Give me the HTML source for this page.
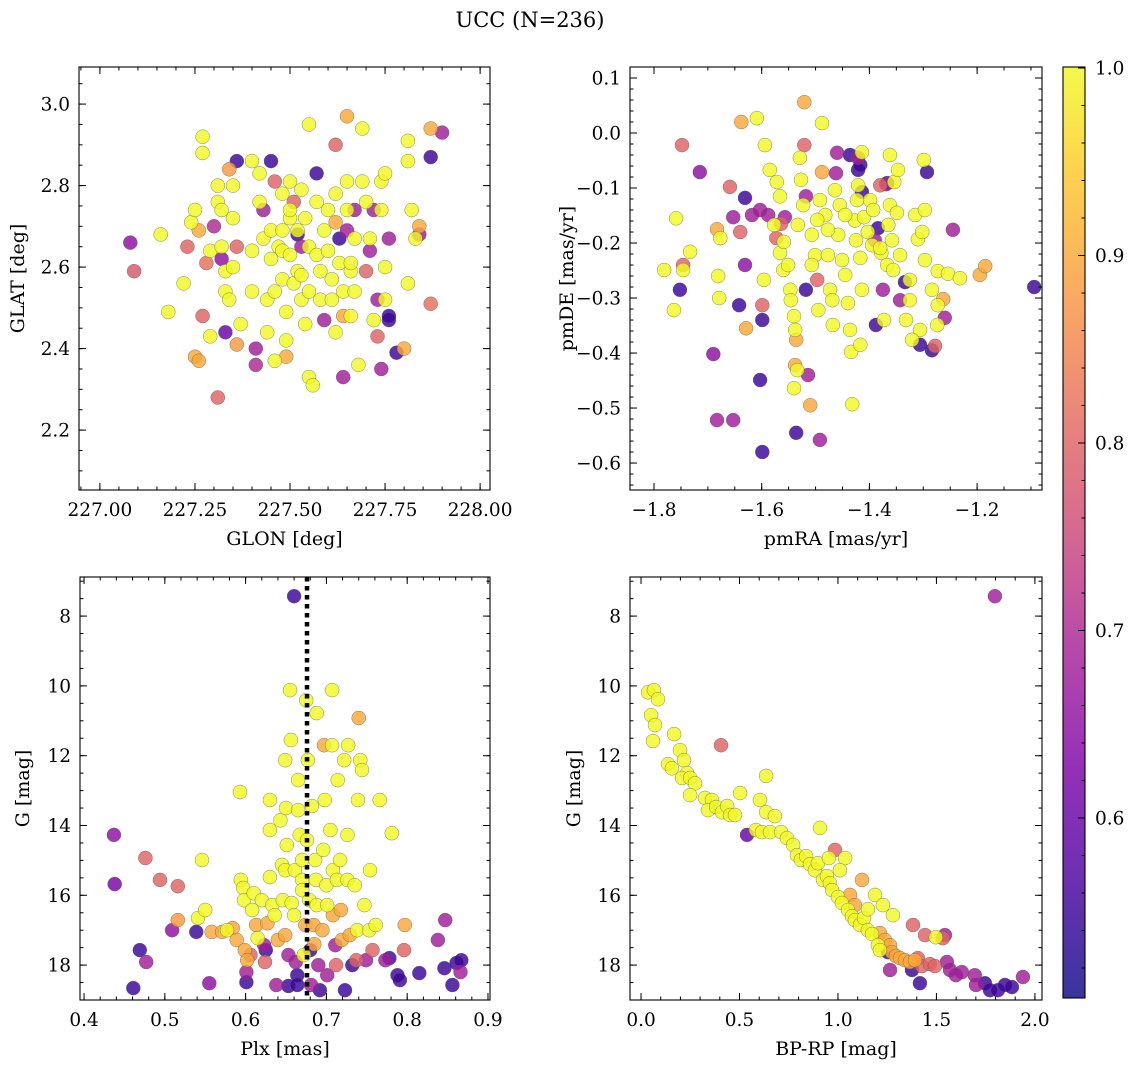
<!DOCTYPE html>
<html><head><meta charset="utf-8"><style>
html,body{margin:0;padding:0;background:#fff;}
svg{display:block;font-family:"DejaVu Serif","Liberation Serif",serif;}
</style></head><body>
<svg id="fig" width="1136" height="1067" viewBox="0 0 1136 1067" xmlns="http://www.w3.org/2000/svg">
<defs>
<linearGradient id="cbgrad" x1="0" y1="1" x2="0" y2="0">
<stop offset="0" stop-color="#0d0887"/><stop offset="0.13" stop-color="#4c02a1"/><stop offset="0.25" stop-color="#7e03a8"/><stop offset="0.38" stop-color="#a82296"/><stop offset="0.5" stop-color="#cc4778"/><stop offset="0.63" stop-color="#e66c5c"/><stop offset="0.75" stop-color="#f89540"/><stop offset="0.88" stop-color="#fdc527"/><stop offset="1" stop-color="#f0f921"/>
</linearGradient>
</defs>
<text x="530" y="27" text-anchor="middle" font-size="21">UCC (N=236)</text>
</svg>
<script>
const posPoints = [[227.08,2.66,.65],[227.09,2.59,.78],[227.16,2.68,1],[227.18,2.49,1],[227.22,2.56,1],[227.23,2.65,.8],[227.24,2.71,1],[227.25,2.74,1],[227.25,2.38,.9],[227.26,2.37,.9],[227.27,2.88,1],[227.27,2.92,1],[227.26,2.69,.9],[227.27,2.48,.8],[227.28,2.61,.82],[227.29,2.43,1],[227.29,2.64,1],[227.30,2.70,.7],[227.31,2.28,.8],[227.31,2.76,1],[227.31,2.80,1],[227.32,2.74,1],[227.32,2.65,1],[227.32,2.62,.65],[227.33,2.59,1],[227.33,2.54,1],[227.33,2.44,.6],[227.34,2.84,.88],[227.34,2.52,1],[227.35,2.80,1],[227.35,2.72,1],[227.35,2.60,1],[227.36,2.86,.55],[227.36,2.41,.88],[227.36,2.65,.8],[227.37,2.46,1],[227.40,2.86,1],[227.40,2.64,1],[227.40,2.54,1],[227.41,2.36,.7],[227.41,2.40,.68],[227.42,2.83,1],[227.42,2.76,1],[227.43,2.74,.68],[227.43,2.67,1],[227.44,2.52,1],[227.44,2.44,1],[227.45,2.86,.55],[227.45,2.69,1],[227.45,2.62,1],[227.46,2.54,1],[227.46,2.37,1],[227.46,2.81,.8],[227.47,2.65,1],[227.48,2.78,1],[227.48,2.69,1],[227.48,2.64,1],[227.48,2.57,1],[227.49,2.49,1],[227.49,2.42,1],[227.49,2.38,.9],[227.50,2.81,1],[227.50,2.72,1],[227.50,2.74,1],[227.50,2.63,1],[227.51,2.56,1],[227.51,2.76,.8],[227.52,2.69,1],[227.52,2.59,1],[227.52,2.68,.55],[227.53,2.65,.68],[227.53,2.58,1],[227.53,2.52,1],[227.53,2.79,1],[227.54,2.46,1],[227.54,2.72,1],[227.55,2.65,1],[227.55,2.95,1],[227.55,2.54,1],[227.55,2.33,1],[227.56,2.31,1],[227.57,2.83,.55],[227.57,2.76,1],[227.57,2.63,1],[227.58,2.59,1],[227.58,2.52,1],[227.59,2.69,1],[227.59,2.47,.68],[227.60,2.74,1],[227.60,2.64,1],[227.61,2.57,1],[227.61,2.52,1],[227.62,2.44,1],[227.62,2.90,.8],[227.62,2.78,1],[227.62,2.71,.9],[227.63,2.61,1],[227.63,2.67,.55],[227.64,2.48,.9],[227.64,2.54,1],[227.64,2.33,.68],[227.65,2.81,1],[227.65,2.97,.9],[227.65,2.74,1],[227.65,2.69,.68],[227.66,2.59,1],[227.66,2.48,1],[227.66,2.61,1],[227.67,2.74,.68],[227.67,2.67,1],[227.67,2.54,1],[227.68,2.36,1],[227.69,2.81,1],[227.69,2.94,1],[227.70,2.76,1],[227.70,2.59,.8],[227.71,2.67,1],[227.71,2.64,.68],[227.72,2.74,.68],[227.72,2.47,1],[227.73,2.52,.68],[227.73,2.43,.8],[227.74,2.81,1],[227.74,2.35,.68],[227.74,2.74,1],[227.75,2.52,1],[227.75,2.60,1],[227.75,2.83,1],[227.76,2.47,.55],[227.76,2.67,.68],[227.76,2.48,.55],[227.78,2.39,.55],[227.80,2.40,.9],[227.81,2.56,1],[227.81,2.86,1],[227.81,2.91,1],[227.82,2.74,1],[227.83,2.67,1],[227.84,2.70,.9],[227.84,2.68,.68],[227.87,2.94,.9],[227.87,2.51,.82],[227.87,2.87,.55],[227.90,2.93,.68]];
const pmPoints = [[-1.748,-0.022,.8],[-1.715,-0.071,.65],[-1.759,-0.155,1],[-1.781,-0.249,1],[-1.763,-0.322,1],[-1.746,-0.24,.8],[-1.746,-0.249,1],[-1.752,-0.285,.55],[-1.733,-0.216,1],[-1.690,-0.402,.65],[-1.683,-0.175,.9],[-1.677,-0.191,1],[-1.681,-0.26,1],[-1.679,-0.30,1],[-1.683,-0.522,.68],[-1.659,-0.098,.8],[-1.653,-0.522,.68],[-1.653,-0.153,.68],[-1.642,-0.313,.55],[-1.640,-0.18,.8],[-1.638,0.02,.9],[-1.631,-0.118,.55],[-1.631,-0.24,.65],[-1.629,-0.355,.9],[-1.618,-0.149,.68],[-1.609,0.027,1],[-1.603,-0.14,.68],[-1.599,-0.313,.8],[-1.599,-0.34,.55],[-1.603,-0.449,.55],[-1.599,-0.58,.55],[-1.596,-0.267,1],[-1.594,-0.022,1],[-1.588,-0.149,.68],[-1.585,-0.067,1],[-1.577,-0.167,1],[-1.573,-0.191,.8],[-1.572,-0.089,1],[-1.566,-0.115,1],[-1.566,-0.218,1],[-1.564,-0.165,.8],[-1.560,-0.249,1],[-1.559,-0.198,1],[-1.557,-0.153,.68],[-1.551,-0.24,1],[-1.547,-0.285,1],[-1.546,-0.304,1],[-1.540,-0.333,1],[-1.538,-0.358,1],[-1.536,-0.376,.9],[-1.540,-0.464,1],[-1.536,-0.545,.55],[-1.538,-0.422,.9],[-1.534,-0.431,1],[-1.533,-0.167,1],[-1.529,-0.045,1],[-1.527,-0.085,1],[-1.523,-0.131,1],[-1.521,0.056,.9],[-1.521,-0.022,.8],[-1.518,-0.115,.68],[-1.518,-0.285,.55],[-1.514,-0.44,.68],[-1.510,-0.495,.9],[-1.507,-0.185,1],[-1.501,-0.222,1],[-1.497,-0.267,.8],[-1.495,-0.322,1],[-1.492,-0.558,.68],[-1.488,0.018,1],[-1.488,-0.071,.9],[-1.482,-0.149,1],[-1.477,-0.222,1],[-1.473,-0.285,1],[-1.469,-0.304,1],[-1.468,-0.349,1],[-1.464,-0.104,1],[-1.462,-0.073,.68],[-1.460,-0.036,.68],[-1.458,-0.185,1],[-1.455,-0.131,1],[-1.451,-0.231,1],[-1.445,-0.258,1],[-1.440,-0.309,1],[-1.436,-0.358,1],[-1.434,-0.398,1],[-1.432,-0.493,1],[-1.427,-0.159,1],[-1.425,-0.195,1],[-1.421,-0.095,1],[-1.421,-0.067,.55],[-1.417,-0.227,1],[-1.414,-0.285,1],[-1.410,-0.153,1],[-1.403,-0.18,1],[-1.399,-0.122,1],[-1.395,-0.204,1],[-1.393,-0.140,1],[-1.390,-0.195,.68],[-1.388,-0.349,.55],[-1.384,-0.173,.55],[-1.380,-0.095,.8],[-1.378,-0.218,1],[-1.375,-0.285,.68],[-1.373,-0.340,1],[-1.367,-0.240,1],[-1.365,-0.167,1],[-1.362,-0.131,1],[-1.358,-0.195,1],[-1.354,-0.089,1],[-1.349,-0.145,1],[-1.347,-0.067,1],[-1.362,-0.04,1],[-1.423,-0.122,1],[-1.414,-0.107,.55],[-1.369,-0.093,.68],[-1.417,-0.058,.55],[-1.380,-0.209,1],[-1.343,-0.222,1],[-1.334,-0.271,.55],[-1.325,-0.267,1],[-1.315,-0.149,1],[-1.310,-0.193,1],[-1.306,-0.358,1],[-1.297,-0.140,1],[-1.284,-0.285,1],[-1.274,-0.349,1],[-1.356,-0.249,1],[-1.343,-0.304,.68],[-1.332,-0.340,1],[-1.321,-0.376,1],[-1.306,-0.385,.55],[-1.325,-0.304,1],[-1.297,-0.231,1],[-1.417,-0.385,1],[-1.445,-0.149,1],[-1.477,-0.176,1],[-1.507,-0.24,1],[-1.497,-0.158,1],[-1.492,-0.122,1],[-1.436,-0.04,.55],[-1.414,-0.035,1],[-1.421,-0.045,.68],[-1.367,-0.091,.55],[-1.302,-0.180,1],[-1.278,-0.387,.8],[-1.273,-0.313,1],[-1.299,-0.049,1],[-1.293,-0.071,.55],[-1.273,-0.251,1],[-1.263,-0.302,.9],[-1.260,-0.336,.68],[-1.245,-0.176,.68],[-1.254,-0.256,1],[-1.232,-0.264,1],[-1.195,-0.258,.9],[-1.185,-0.242,.9],[-1.094,-0.280,.55],[-1.284,-0.395,.55]];
const plxPoints = [[0.437,14.27,.65],[0.438,15.68,.62],[0.476,14.93,.8],[0.469,17.57,.55],[0.477,17.91,.68],[0.461,18.66,.55],[0.494,15.56,.8],[0.516,15.74,.8],[0.516,16.71,.88],[0.509,17.0,.65],[0.539,17.05,.55],[0.541,16.65,1],[0.550,16.42,1],[0.546,14.99,1],[0.555,18.52,.65],[0.558,17.05,.9],[0.571,17.05,.9],[0.577,17.0,1],[0.584,16.94,.9],[0.589,17.28,.9],[0.593,13.04,1],[0.594,15.56,1],[0.597,15.79,1],[0.598,16.14,1],[0.599,17.57,.9],[0.602,17.86,.9],[0.601,18.2,.68],[0.601,18.49,.55],[0.606,17.71,.8],[0.608,16.42,1],[0.610,15.94,1],[0.613,16.85,.9],[0.615,17.23,1],[0.620,16.14,1],[0.623,17.43,.68],[0.625,17.57,.55],[0.624,17.91,.8],[0.627,16.8,.9],[0.630,15.48,1],[0.630,14.13,1],[0.630,13.27,1],[0.633,16.28,1],[0.636,16.57,1],[0.638,18.57,.68],[0.640,17.28,.9],[0.643,13.85,1],[0.645,15.13,1],[0.646,16.14,1],[0.649,12.13,1],[0.650,13.5,1],[0.651,14.56,1],[0.649,15.28,1],[0.649,17.14,.9],[0.653,17.71,.68],[0.653,18.6,.55],[0.655,10.12,1],[0.656,11.55,1],[0.657,16.22,1],[0.660,7.43,.55],[0.660,16.57,1],[0.661,15.28,1],[0.662,17.91,.68],[0.664,18.29,.55],[0.664,18.57,.55],[0.665,12.7,1],[0.665,13.56,1],[0.667,14.27,1],[0.670,15.56,1],[0.670,14.99,1],[0.670,15.85,1],[0.672,17.71,1],[0.674,16.85,.9],[0.675,10.41,1],[0.676,14.42,1],[0.677,12.13,1],[0.679,16.14,1],[0.680,17.57,.55],[0.681,18.57,.68],[0.682,13.44,1],[0.684,16.85,.9],[0.685,17.4,.9],[0.686,14.99,1],[0.687,15.56,1],[0.688,10.78,1],[0.688,16.28,1],[0.690,18.0,.68],[0.692,18.72,.55],[0.695,17.0,.9],[0.696,14.7,1],[0.697,11.7,.9],[0.698,13.27,1],[0.700,15.71,1],[0.701,16.28,1],[0.701,18.29,.68],[0.705,14.13,1],[0.707,10.12,1],[0.707,11.7,1],[0.708,16.57,.9],[0.708,15.28,1],[0.711,17.43,.68],[0.712,18.0,.8],[0.713,15.56,1],[0.714,12.7,1],[0.717,14.99,1],[0.718,16.42,.9],[0.719,17.28,.9],[0.722,12.13,1],[0.723,18.72,.55],[0.726,14.27,1],[0.726,15.56,1],[0.727,11.7,1],[0.729,17.14,.9],[0.732,18.0,.55],[0.735,15.71,1],[0.737,17.86,.8],[0.738,17.0,1],[0.739,13.27,1],[0.740,10.92,.9],[0.742,12.13,1],[0.744,12.41,1],[0.747,16.28,1],[0.749,17.86,.68],[0.753,17.0,1],[0.754,15.28,1],[0.757,17.57,.8],[0.761,16.85,1],[0.766,13.27,1],[0.773,17.86,.68],[0.778,17.8,.55],[0.781,14.22,1],[0.788,18.29,.55],[0.791,18.43,.55],[0.796,17.57,.8],[0.797,16.85,.9],[0.815,18.23,.55],[0.838,17.28,.68],[0.846,18.09,.55],[0.847,16.71,.68],[0.856,18.57,.55],[0.861,17.94,.55],[0.867,17.86,.55],[0.866,18.2,.68]];
const cmdPoints = [[0.036,10.18,1],[0.066,10.12,1],[0.086,10.38,1],[0.051,10.84,1],[0.071,11.12,1],[0.061,11.58,1],[0.168,11.38,1],[0.137,12.24,1],[0.157,12.36,1],[0.198,11.84,1],[0.218,12.13,1],[0.234,12.5,1],[0.208,12.64,1],[0.249,12.64,1],[0.274,12.79,1],[0.249,13.13,1],[0.325,13.21,1],[0.360,13.27,1],[0.340,13.56,1],[0.381,13.47,1],[0.411,13.62,1],[0.437,13.44,1],[0.452,13.7,1],[0.477,13.7,1],[0.503,13.07,1],[0.538,14.27,.6],[0.406,11.7,.8],[0.635,12.58,1],[0.604,13.27,1],[0.635,13.62,1],[0.584,14.13,1],[0.614,14.19,1],[0.655,14.19,1],[0.680,13.73,1],[0.711,14.19,1],[0.741,14.36,1],[0.772,14.56,1],[0.792,14.85,1],[0.812,14.99,1],[0.838,14.88,1],[0.858,15.11,1],[0.883,15.28,1],[0.898,15.08,1],[0.909,14.07,1],[0.924,15.56,1],[0.944,15.45,1],[0.959,15.65,1],[0.970,15.85,1],[1.0,16.05,1],[1.020,16.22,1],[1.051,16.42,1],[1.061,15.99,.9],[1.071,16.6,1],[1.086,16.71,1],[1.112,16.85,1],[1.132,16.65,1],[1.152,17.0,1],[1.173,17.11,1],[1.203,17.43,1],[1.213,17.57,1],[1.086,16.28,.9],[1.152,16.4,1],[1.213,17.08,.9],[1.239,17.28,.9],[1.264,17.43,.9],[1.274,17.63,.9],[1.294,17.74,.9],[1.315,17.8,.9],[1.340,17.86,.9],[1.365,17.91,.9],[1.391,17.86,.9],[1.406,17.8,.8],[1.426,18.03,.8],[1.467,17.97,.8],[1.492,18.03,.8],[1.497,17.2,1],[1.533,17.23,.8],[1.553,17.91,.68],[1.569,18.14,.68],[1.599,18.29,.68],[1.629,18.2,.68],[1.543,17.14,.68],[1.254,17.63,.55],[1.264,18.14,.68],[1.376,18.14,.55],[1.416,18.52,.55],[1.695,18.29,.68],[1.701,18.57,.68],[1.746,18.52,.55],[1.772,18.72,.55],[1.812,18.72,.55],[1.848,18.57,.55],[1.883,18.63,.55],[1.939,18.34,.68],[1.797,7.43,.68],[0.985,14.7,.8],[1.036,14.93,1],[0.954,14.93,1],[1.010,15.28,1],[1.122,15.56,.9],[1.188,15.99,1],[1.228,16.28,1],[1.279,16.57,1],[1.381,16.85,.8],[1.442,17.14,.8]];
const plxMedian = [0.676];
const cbTicks = [0.6,0.7,0.8,0.9,1.0];
const cbTickLabels = ["0.6","0.7","0.8","0.9","1.0"];
const glonTicks = [227,227.25,227.5,227.75,228];
const glonTickLabels = ["227.00","227.25","227.50","227.75","228.00"];
const glatTicks = [2.2,2.4,2.6,2.8,3.0];
const glatTickLabels = ["2.2","2.4","2.6","2.8","3.0"];
const pmraTicks = [-1.8,-1.6,-1.4,-1.2];
const pmraTickLabels = ["\u22121.8","\u22121.6","\u22121.4","\u22121.2"];
const pmdeTicks = [0.1,0,-0.1,-0.2,-0.3,-0.4,-0.5,-0.6];
const pmdeTickLabels = ["0.1","0.0","\u22120.1","\u22120.2","\u22120.3","\u22120.4","\u22120.5","\u22120.6"];
const plxTicks = [0.4,0.5,0.6,0.7,0.8,0.9];
const plxTickLabels = ["0.4","0.5","0.6","0.7","0.8","0.9"];
const gTicks = [8,10,12,14,16,18];
const gTickLabels = ["8","10","12","14","16","18"];
const bprpTicks = [0,0.5,1,1.5,2];
const bprpTickLabels = ["0.0","0.5","1.0","1.5","2.0"];

const NS="http://www.w3.org/2000/svg";
const svg=document.getElementById('fig');
function mk(tag,attrs,parent){const e=document.createElementNS(NS,tag);for(const k in attrs)e.setAttribute(k,attrs[k]);(parent||svg).appendChild(e);return e;}
const stops=[[0,[13,8,135]],[0.13,[76,2,161]],[0.25,[126,3,168]],[0.38,[168,34,150]],[0.5,[204,71,120]],[0.63,[230,108,92]],[0.75,[248,149,64]],[0.88,[253,197,39]],[1,[240,249,33]]];
const cmin=0.504,cmax=1.0;
function plasma(v){let t=(v-cmin)/(cmax-cmin);t=Math.max(0,Math.min(1,t));for(let i=1;i<stops.length;i++){if(t<=stops[i][0]){const a=stops[i-1],b=stops[i];const f=(t-a[0])/(b[0]-a[0]);const c=a[1].map((x,j)=>Math.round(x+(b[1][j]-x)*f));return `rgb(${c[0]},${c[1]},${c[2]})`;}}return 'rgb(240,249,33)';}
function lin(d0,d1,r0,r1){return v=>r0+(v-d0)/(d1-d0)*(r1-r0);}
const TF=18.5, LF=19;
const panels=[
 {name:'sky',box:[79,67,490,490],xd:[226.945,228.026],yd:[3.091,2.053],pts:posPoints,xt:glonTicks,xl:glonTickLabels,yt:glatTicks,yl:glatTickLabels,xm:0.05,ym:0.05,xlab:'GLON [deg]',ylab:'GLAT [deg]',ylx:24},
 {name:'pm',box:[630,67,1042,490],xd:[-1.8446,-1.0795],yd:[0.12,-0.649],pts:pmPoints,xt:pmraTicks,xl:pmraTickLabels,yt:pmdeTicks,yl:pmdeTickLabels,xm:0.05,ym:0.02,xlab:'pmRA [mas/yr]',ylab:'pmDE [mas/yr]',ylx:573},
 {name:'plx',box:[80,577,490,1000],xd:[0.395,0.9025],yd:[6.88,19.0],pts:plxPoints,xt:plxTicks,xl:plxTickLabels,yt:gTicks,yl:gTickLabels,xm:0.02,ym:0.5,xlab:'Plx [mas]',ylab:'G [mag]',ylx:29},
 {name:'cmd',box:[630,577,1042,1000],xd:[-0.056,2.036],yd:[6.88,19.0],pts:cmdPoints,xt:bprpTicks,xl:bprpTickLabels,yt:gTicks,yl:gTickLabels,xm:0.1,ym:0.5,xlab:'BP-RP [mag]',ylab:'G [mag]',ylx:580}
];
panels.forEach(P=>{
 const [x0,y0,x1,y1]=P.box;
 const sx=lin(P.xd[0],P.xd[1],x0,x1), sy=lin(P.yd[0],P.yd[1],y0,y1);
 const g=mk('g',{});
 
 
 mk('rect',{x:x0,y:y0,width:x1-x0,height:y1-y0,fill:'#fff'},g);
 const clipId='clip-'+P.name;
 const cp=mk('clipPath',{id:clipId},g);mk('rect',{x:x0,y:y0,width:x1-x0,height:y1-y0},cp);
 const pg=mk('g',{'clip-path':`url(#${clipId})`},g);
 
 
 const sorted=P.pts.slice().sort((a,b)=>a[2]-b[2]);
 sorted.forEach(d=>{
  const c=mk('circle',{cx:sx(d[0]).toFixed(1),cy:sy(d[1]).toFixed(1),r:7,fill:plasma(d[2]),'fill-opacity':0.82,stroke:'#555','stroke-width':0.5,'stroke-opacity':0.7},pg);
  
  
 });
 if(P.name==='plx'){
  const xv=sx(plxMedian[0]);
  const ml=mk('line',{x1:xv,x2:xv,y1:y0,y2:y1,stroke:'#000','stroke-width':4.5,'stroke-dasharray':'4.5,4.5'},g);
  
  
 }
 const tg=mk('g',{stroke:'#000','stroke-width':1},g);
 
 
 const xmin=Math.min(...P.xd),xmax=Math.max(...P.xd),ymin=Math.min(...P.yd),ymax=Math.max(...P.yd);
 for(let v=Math.ceil(xmin/P.xm-1e-6)*P.xm;v<=xmax+1e-9;v+=P.xm){const x=sx(v);mk('line',{x1:x,x2:x,y1:y1,y2:y1-3.5},tg);mk('line',{x1:x,x2:x,y1:y0,y2:y0+3.5},tg);}
 for(let v=Math.ceil(ymin/P.ym-1e-6)*P.ym;v<=ymax+1e-9;v+=P.ym){const y=sy(v);mk('line',{x1:x0,x2:x0+3.5,y1:y,y2:y},tg);mk('line',{x1:x1,x2:x1-3.5,y1:y,y2:y},tg);}
 P.xt.forEach((v,i)=>{const x=sx(v);mk('line',{x1:x,x2:x,y1:y1,y2:y1-7},tg);mk('line',{x1:x,x2:x,y1:y0,y2:y0+7},tg);
  const t=mk('text',{x:x,y:y1+26,'text-anchor':'middle','font-size':TF,stroke:'none'},g);t.textContent=P.xl[i];
  
  });
 P.yt.forEach((v,i)=>{const y=sy(v);mk('line',{x1:x0,x2:x0+7,y1:y,y2:y},tg);mk('line',{x1:x1,x2:x1-7,y1:y,y2:y},tg);
  const t=mk('text',{x:x0-9,y:y+6.5,'text-anchor':'end','font-size':TF},g);t.textContent=P.yl[i];
  
  });
 mk('rect',{x:x0,y:y0,width:x1-x0,height:y1-y0,fill:'none',stroke:'#000','stroke-width':1.1},g);
 const xl=mk('text',{x:(x0+x1)/2,y:y1+55,'text-anchor':'middle','font-size':LF},g);xl.textContent=P.xlab;
 
 
 const yc=(y0+y1)/2;
 const yl=mk('text',{x:P.ylx,y:yc,'text-anchor':'middle','font-size':LF,transform:`rotate(-90 ${P.ylx} ${yc})`},g);yl.textContent=P.ylab;
 
 
});
const cbx0=1063,cbx1=1085,cby0=67,cby1=998;
const cb=mk('g',{});


mk('rect',{x:cbx0,y:cby0,width:cbx1-cbx0,height:cby1-cby0,fill:'url(#cbgrad)','fill-opacity':0.82},cb);
const scb=lin(1.0,cmin,cby0+1,cby1);
for(let v=0.52;v<=1.0001;v+=0.02){const y=scb(v);mk('line',{x1:cbx1,x2:cbx1-3.5,y1:y,y2:y,stroke:'#000','stroke-width':1},cb);}
cbTicks.forEach((v,i)=>{const y=scb(v);mk('line',{x1:cbx1,x2:cbx1-7,y1:y,y2:y,stroke:'#000','stroke-width':1},cb);
 const t=mk('text',{x:cbx1+10,y:y+6.5,'font-size':TF},cb);t.textContent=cbTickLabels[i];
 
 });
mk('rect',{x:cbx0,y:cby0,width:cbx1-cbx0,height:cby1-cby0,fill:'none',stroke:'#000','stroke-width':1.1},cb);
</script>
</body></html>
